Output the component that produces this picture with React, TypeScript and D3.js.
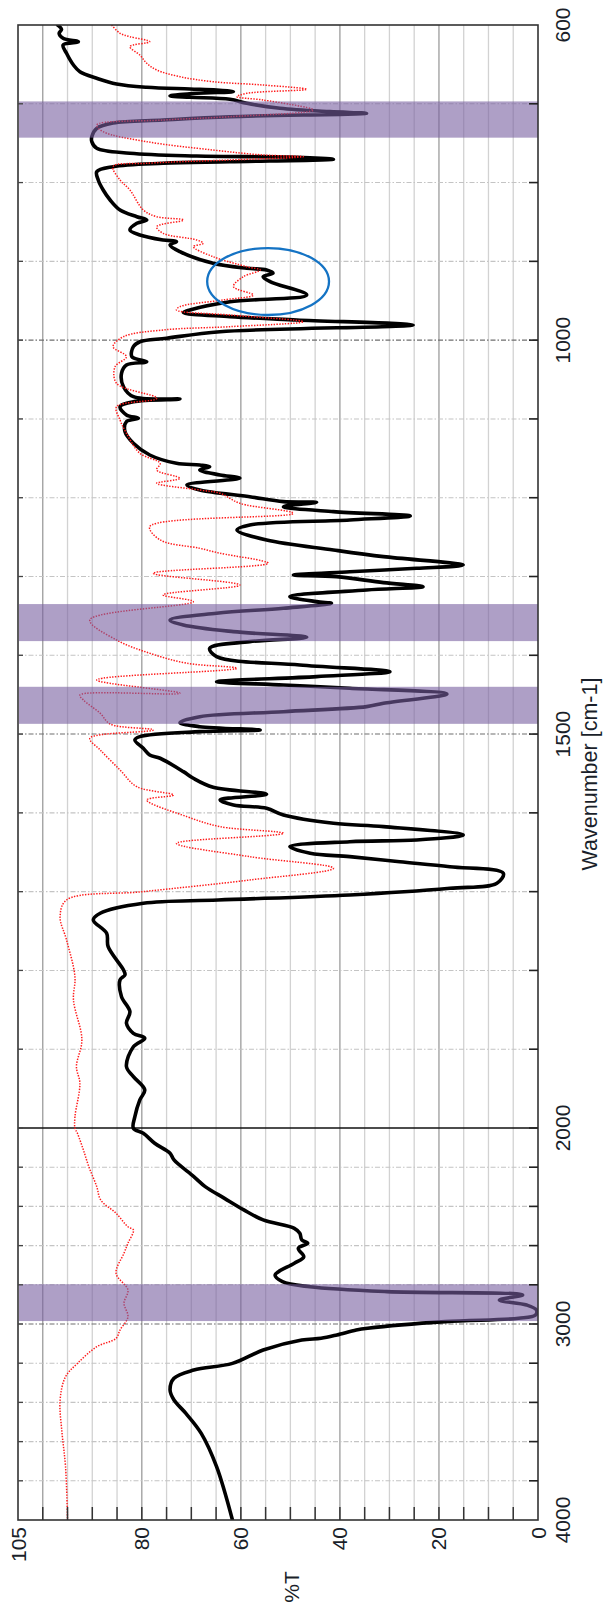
import React from 'react';
import * as d3 from 'd3';

const W = 604;
const H = 1608;

// [wavenumber, %T]
const blackSpectrum: [number, number][] = [
  [600,97.0],[605.5,96.2],[610.5,96.7],[616.9,95.9],[621.2,92.8],[625.4,95.9],[635.9,95.2],[650.8,93.8],[659.3,92.5],[667.6,89.1],[674.9,85.1],[679.1,79.0],[681.2,70.3],[682.5,64.9],[684.7,61.5],[686.7,68.9],[690.1,74.3],[691.8,70.3],[694.3,62.2],[699.4,58.8],[705.7,52.1],[710.0,42.0],[712.1,34.6],[716.4,62.2],[720.6,75.7],[724.4,85.8],[731.1,89.1],[741.8,90.1],[748.1,90.1],[756.5,89.1],[762.8,82.4],[766.3,68.9],[767.9,48.7],[770.5,41.3],[773.5,62.2],[775.5,75.7],[779.8,85.8],[786.2,89.1],[796.7,88.8],[809.4,87.8],[822.1,86.4],[834.8,84.4],[843.3,81.0],[847.5,79.0],[851.7,81.0],[860.2,82.4],[866.5,80.4],[872.9,75.7],[875.0,73.0],[879.2,74.3],[887.7,72.3],[902.4,65.6],[908.8,58.8],[911.0,54.8],[915.1,53.5],[919.5,55.5],[925.8,54.1],[942.7,46.7],[951.2,62.2],[961.7,70.3],[965.1,71.6],[970.2,62.2],[974.4,48.7],[980.8,25.2],[989.3,64.2],[997.6,75.0],[1002.0,80.4],[1008.3,81.7],[1021.0,82.0],[1027.3,79.0],[1031.5,83.1],[1042.1,84.1],[1059.1,83.7],[1071.8,81.7],[1074.7,72.3],[1078.1,81.7],[1084.5,84.4],[1095.0,83.1],[1099.2,80.7],[1103.5,83.1],[1116.2,83.4],[1130.9,81.7],[1145.8,78.4],[1156.3,73.0],[1158.4,68.3],[1160.6,66.3],[1164.8,68.3],[1171.1,64.2],[1175.3,60.2],[1183.8,70.9],[1190.2,68.3],[1198.7,58.2],[1205.0,51.4],[1205.8,44.7],[1211.4,51.4],[1217.7,41.3],[1223.2,25.8],[1228.2,38.0],[1234.6,58.2],[1241.0,60.8],[1253.7,54.8],[1266.3,41.3],[1274.8,31.2],[1285.4,15.1],[1289.6,24.5],[1293.9,38.0],[1298.1,49.4],[1300.2,40.7],[1307.8,31.2],[1312.9,23.2],[1317.1,34.6],[1325.6,50.1],[1331.9,44.7],[1334.0,41.7],[1340.3,51.4],[1346.7,64.9],[1355.2,74.3],[1361.5,71.6],[1370.0,61.5],[1377.1,46.7],[1382.7,58.2],[1391.1,66.3],[1401.7,64.9],[1412.3,48.1],[1420.8,29.9],[1427.1,44.7],[1433.5,64.9],[1437.7,51.4],[1441.9,38.0],[1449.1,18.4],[1460.9,31.2],[1465.2,34.6],[1471.6,51.4],[1477.9,68.3],[1485.5,72.3],[1490.6,68.3],[1494.8,56.1],[1496.9,68.3],[1503.3,80.4],[1507.5,81.4],[1518.0,79.7],[1526.5,78.4],[1530.7,76.3],[1547.7,71.6],[1556.1,69.6],[1567.5,65.6],[1576.4,54.8],[1583.6,64.2],[1590.0,61.5],[1594.2,54.8],[1602.7,51.4],[1613.2,41.3],[1617.5,31.2],[1628.1,15.1],[1634.4,24.5],[1636.6,38.0],[1642.9,50.1],[1651.3,46.0],[1655.6,38.0],[1662.0,27.9],[1668.3,17.8],[1676.6,7.0],[1689.3,8.3],[1695.7,17.8],[1704.2,38.0],[1710.6,64.6],[1714.7,79.7],[1727.4,88.4],[1735.9,89.8],[1752.8,87.1],[1769.8,86.8],[1799.4,83.7],[1805.7,83.4],[1812.1,84.4],[1833.3,84.1],[1852.3,82.4],[1867.1,83.1],[1879.8,81.7],[1886.1,79.4],[1896.8,81.7],[1922.1,83.1],[1934.8,81.7],[1951.7,79.4],[1964.4,80.4],[1985.6,81.4],[2001.5,81.7],[2027,79.7],[2078,77.4],[2129,74.3],[2163,73.5],[2248,69.5],[2299,67.2],[2359,63.3],[2418,59.4],[2469,55.5],[2512,49.2],[2537,48.1],[2571,47.7],[2588,46.5],[2614,48.4],[2657,47.3],[2690,49.2],[2733,52.4],[2750,53.1],[2784,51.6],[2810,46.1],[2835,30.5],[2852,3.1],[2878,7.8],[2903,2.3],[2929,0.3],[2954,0.5],[2971,3.9],[2988,18.7],[3022,34.4],[3031,36.7],[3056,40.6],[3073,43.8],[3082,47.7],[3133,55.5],[3201,61.7],[3235,69.5],[3277,73.5],[3337,74.3],[3388,73.5],[3456,71.1],[3558,68.0],[3728,64.9],[4000,61.7]
];

const redSpectrum: [number, number][] = [
  [600,86.1],[610.5,84.4],[614.8,82.4],[621.2,78.4],[627.5,82.4],[638.1,80.4],[648.6,79.0],[657.1,77.0],[665.6,72.3],[672.0,65.6],[676.2,55.5],[681.6,46.7],[686.7,58.8],[691.0,60.8],[695.2,55.5],[707.9,45.4],[716.4,62.2],[720.6,75.7],[726.9,89.1],[735.4,87.8],[748.1,79.0],[758.7,65.6],[765.0,55.5],[767.2,47.4],[771.3,62.2],[775.5,79.0],[779.8,85.8],[796.7,84.4],[809.4,82.4],[834.8,79.7],[843.3,77.0],[847.5,71.6],[856.0,77.0],[864.4,75.7],[872.9,68.9],[877.1,67.6],[881.4,69.6],[894.1,65.6],[906.8,58.8],[911.0,56.1],[919.5,59.5],[932.1,61.5],[942.7,57.5],[949.0,63.6],[957.5,72.3],[961.7,73.0],[968.1,62.2],[976.6,47.4],[982.9,62.2],[987.1,75.7],[995.6,83.7],[1008.3,85.8],[1021.0,83.1],[1033.7,85.4],[1054.8,85.1],[1073.8,77.0],[1084.5,85.1],[1101.3,84.4],[1118.2,83.1],[1143.6,80.4],[1156.3,76.3],[1164.8,77.0],[1175.3,72.3],[1181.7,77.0],[1190.2,68.3],[1194.4,64.2],[1207.1,60.2],[1219.8,49.4],[1236.7,78.4],[1253.6,76.3],[1264.2,68.3],[1270.5,64.2],[1283.2,54.5],[1295.9,77.7],[1310.8,60.2],[1323.4,75.7],[1331.9,69.6],[1355.2,90.5],[1380.6,85.1],[1397.4,78.4],[1410.1,70.9],[1416.5,60.8],[1431.3,89.1],[1448.2,72.3],[1450.4,92.5],[1456.7,91.8],[1473.6,88.4],[1487.2,86.4],[1494.8,77.7],[1505.3,90.5],[1520.2,88.4],[1545.6,84.4],[1566.8,81.0],[1577.3,73.6],[1583.6,79.0],[1604.8,70.9],[1617.5,64.2],[1626.0,51.4],[1638.7,73.0],[1655.6,58.2],[1670.3,41.3],[1685.2,58.2],[1700.0,79.7],[1710.6,95.2],[1731.7,96.5],[1761.3,95.2],[1807.9,93.5],[1837.5,93.8],[1888.2,92.1],[1922.1,93.2],[1943.3,92.5],[1985.6,93.5],[2000.4,93.5],[2027,93.0],[2112,91.8],[2197,90.7],[2299,89.1],[2367,88.3],[2435,85.2],[2504,82.8],[2520,81.7],[2588,82.8],[2639,83.6],[2741,85.2],[2827,82.8],[2894,83.6],[2963,82.8],[3031,84.4],[3073,85.2],[3116,89.1],[3201,93.0],[3269,95.4],[3388,96.5],[3558,96.1],[3728,95.4],[4000,95.0]
];

// highlighted wavenumber bands [from, to]
const bands: [number, number][] = [[697, 743], [1335, 1382], [1440, 1487], [2797, 2985]];

const wnTickLabels = [600, 1000, 1500, 2000, 3000, 4000];
const tTickLabels = [105, 80, 60, 40, 20, 0];
const wnGrid = [700, 800, 900, 1000, 1100, 1200, 1300, 1400, 1500, 1600, 1700, 1800, 1900, 2000, 2200, 2400, 2600, 2800, 3000, 3200, 3400, 3600, 3800];
const wnMajor = [1000, 1500, 3000];
const tGrid = [5, 10, 15, 20, 25, 30, 35, 40, 45, 50, 55, 60, 65, 70, 75, 80, 85, 90, 95, 100];

// annotation ellipse in data units: [centre wn, centre %T, half-span wn, half-span %T]
const circleMark = [925.6, 54.5, 42.5, 12.3];

const FONT = "'Liberation Sans', Arial, sans-serif";
const TEXT = '#1a1f2a';

export default function App() {
  const yS = d3.scaleLinear().domain([600, 2000, 4000]).range([25, 1128, 1520]);
  const xS = d3.scaleLinear().domain([0, 105]).range([538, 18]);
  const x0 = xS(105), x1 = xS(0), y0 = yS(600), y1 = yS(4000);

  const line = d3
    .line<[number, number]>()
    .x((d) => xS(Math.max(0, d[1])))
    .y((d) => yS(d[0]))
    .curve(d3.curveCatmullRom.alpha(0.5));

  const [cw, ct, dw, dt] = circleMark;
  const ecx = xS(ct), ecy = yS(cw);
  const erx = Math.abs(xS(ct + dt) - ecx);
  const ery = Math.abs(yS(cw + dw) - ecy);

  return (
    <svg width={W} height={H} style={{ position: 'absolute', left: 0, top: 0, background: '#fff' }}>
      <rect x={0} y={0} width={W} height={H} fill="#fff" />
      <defs>
        <clipPath id="plot">
          <rect x={x0} y={y0} width={x1 - x0} height={y1 - y0} />
        </clipPath>
      </defs>
      {/* vertical grid (%T) */}
      {tGrid.map((t) => (
        <line key={'tg' + t} x1={xS(t)} x2={xS(t)} y1={y0} y2={y1}
          stroke={t % 20 === 0 ? '#9c9c9c' : '#d2d2d2'} strokeWidth={1.3} />
      ))}
      {/* horizontal grid (wavenumber) */}
      {wnGrid.map((w) => (
        <line key={'wg' + w} x1={x0} x2={x1} y1={yS(w)} y2={yS(w)}
          stroke={w === 2000 ? '#111' : wnMajor.includes(w) ? '#6e6e6e' : '#c4c4c4'}
          strokeWidth={w === 2000 ? 1.4 : 1.1}
          strokeDasharray={w === 2000 ? undefined : '5,2,1.5,2'} />
      ))}
      {/* spectra */}
      <g clipPath="url(#plot)">
        <path d={line(blackSpectrum) || ''} fill="none" stroke="#000" strokeWidth={3.6} strokeLinejoin="round" strokeLinecap="round" />
        <path d={line(redSpectrum) || ''} fill="none" stroke="#ff1a1a" strokeWidth={1.5} strokeDasharray="1.4,1.4" />
      </g>
      {/* highlighted bands */}
      {bands.map(([a, b], i) => (
        <rect key={'band' + i} x={x0 + 1} y={yS(a)} width={x1 - x0 - 1} height={yS(b) - yS(a)}
          fill="rgb(120,95,160)" fillOpacity={0.6} />
      ))}
      {/* annotation ellipse */}
      <ellipse cx={ecx} cy={ecy} rx={erx} ry={ery} fill="none" stroke="#1473c4" strokeWidth={2.3} />
      {/* frame */}
      <rect x={x0} y={y0} width={x1 - x0} height={y1 - y0} fill="none" stroke="#333" strokeWidth={1.6} />
      {/* right axis ticks */}
      {wnGrid.map((w) => (
        <line key={'rt' + w} x1={x1 - 9} x2={x1} y1={yS(w)} y2={yS(w)} stroke="#222" strokeWidth={1.6} />
      ))}
      {wnGrid.map((w) => (
        <line key={'lt' + w} x1={x0} x2={x0 + 5} y1={yS(w)} y2={yS(w)} stroke="#444" strokeWidth={1.3} />
      ))}
      {/* bottom axis ticks */}
      {tGrid.map((t) => (
        <line key={'bt' + t} x1={xS(t)} x2={xS(t)} y1={y1 - 13} y2={y1} stroke="#333" strokeWidth={1.5} />
      ))}
      {/* wavenumber labels */}
      {wnTickLabels.map((w) => (
        <text key={'wl' + w} transform={`translate(570,${yS(w)}) rotate(-90)`} textAnchor="middle"
          fontFamily={FONT} fontSize={21} fill={TEXT}>{w}</text>
      ))}
      <text transform={`translate(597,774) rotate(-90)`} textAnchor="middle" fontFamily={FONT} fontSize={21.5} fill={TEXT}>
        Wavenumber [cm-1]
      </text>
      {/* %T labels */}
      {tTickLabels.map((t) => (
        <text key={'tl' + t} transform={`translate(${xS(t) + 7.5},1527) rotate(-90)`} textAnchor="end"
          fontFamily={FONT} fontSize={21} fill={TEXT}>{t}</text>
      ))}
      <text transform={`translate(299,1587) rotate(-90)`} textAnchor="middle" fontFamily={FONT} fontSize={21} fill={TEXT}>
        %T
      </text>
    </svg>
  );
}
